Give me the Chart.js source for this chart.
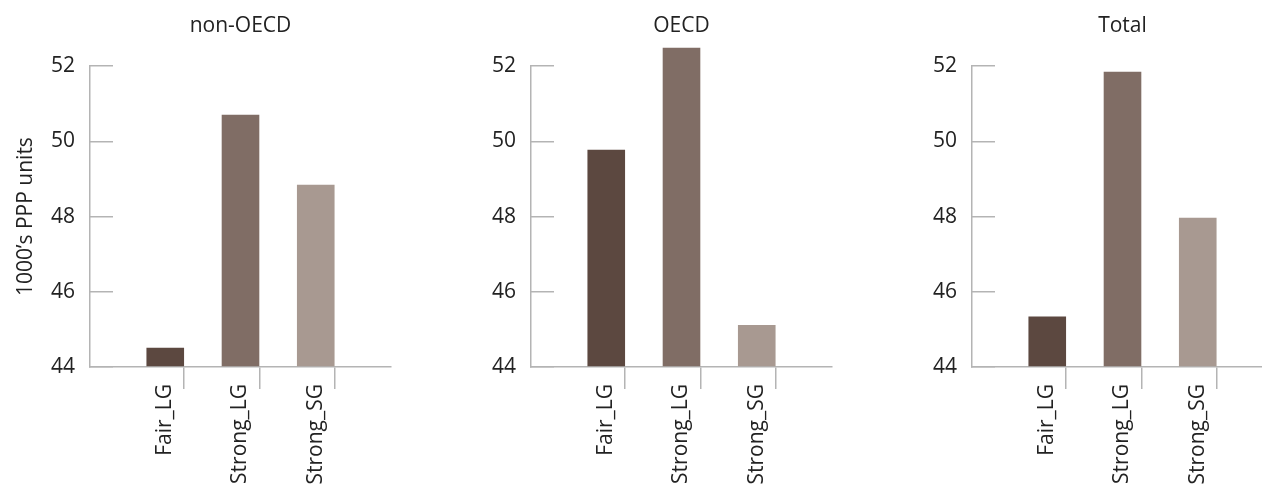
<!DOCTYPE html>
<html>
<head>
<meta charset="utf-8">
<script src="https://cdn.jsdelivr.net/npm/chart.js@4"></script>
<style>
  html, body { margin: 0; padding: 0; background: #fff; overflow: hidden; }
  body { width: 1262px; height: 489px; position: relative; }
  .panel { position: absolute; top: 0; width: 420px; height: 489px; }
</style>
</head>
<body>
<div class="panel" style="left:0px"><canvas id="c0"></canvas></div>
<div class="panel" style="left:441px"><canvas id="c1"></canvas></div>
<div class="panel" style="left:882px"><canvas id="c2"></canvas></div>
<script>
const panelTitles = ['non-OECD', 'OECD', 'Total']
const categories = ['Fair_LG', 'Strong_LG', 'Strong_SG']
const nonOecd = [44.51, 50.71, 48.85]
const oecd = [49.78, 52.49, 45.12]
const total = [45.34, 51.85, 47.97]
const yTicks = [44, 46, 48, 50, 52]
const barColors = ['#5c4840', '#806d65', '#a89991']
const yTitle = '1000\u2019s PPP units'

const series = [nonOecd, oecd, total]
const BAR_PCT = 0.5
const axisGrey = '#b4b4b4'
const textColor = '#222'

Chart.defaults.font.family = "'Open Sans', sans-serif"
Chart.defaults.color = textColor

const makeChart = (idx) => {
  const ctx = document.getElementById('c' + idx)
  const values = series[idx]

  new Chart(ctx, {
    type: 'bar',
    data: {
      datasets: [{
        data: categories.map((c, i) => ({ x: i, y: values[i] })),
        backgroundColor: barColors,
        barPercentage: BAR_PCT,
        categoryPercentage: 1,
        base: yTicks[0],
        clip: false
      }]
    },
    options: {
      responsive: true,
      maintainAspectRatio: false,
      animation: false,
      layout: { padding: { left: 0, right: 29, top: 0, bottom: 0 } },
      plugins: {
        legend: { display: false },
        tooltip: { enabled: false },
        title: {
          display: true,
          text: panelTitles[idx],
          fullSize: false,
          color: textColor,
          font: { size: 21, weight: 'normal' },
          padding: { top: 13, bottom: 28 }
        }
      },
      scales: {
        x: {
          type: 'linear',
          min: -1,
          max: 3,
          offset: false,
          // tick marks sit on the right edge of each bar
          afterBuildTicks: (axis) => {
            axis.ticks = categories.map((c, i) => ({ value: i + BAR_PCT / 2 }))
          },
          afterFit: (axis) => { axis.height = 122 },
          grid: { offset: false, drawOnChartArea: false, drawTicks: true, tickLength: 22, color: axisGrey, lineWidth: 1.5 },
          border: { color: axisGrey, width: 1.5 },
          ticks: {
            callback: (v, i) => categories[i],
            minRotation: 90,
            maxRotation: 90,
            autoSkip: false,
            labelOffset: -19,
            padding: -5,
            color: textColor,
            font: { size: 21 }
          }
        },
        y: {
          min: 44,
          max: 52,
          afterBuildTicks: (axis) => {
            axis.ticks = yTicks.map(v => ({ value: v }))
          },
          afterFit: (axis) => { axis.width = 90 },
          grid: { drawOnChartArea: false, drawTicks: true, tickLength: -23, color: axisGrey, lineWidth: 1.5 },
          border: { color: axisGrey, width: 1.5 },
          ticks: {
            padding: 38,
            color: textColor,
            font: { size: 21 }
          },
          title: {
            display: idx === 0,
            text: yTitle,
            color: textColor,
            font: { size: 21 },
            padding: { top: 13, bottom: 0 }
          }
        }
      }
    }
  })
}

panelTitles.forEach((t, i) => makeChart(i))
</script>
</body>
</html>
